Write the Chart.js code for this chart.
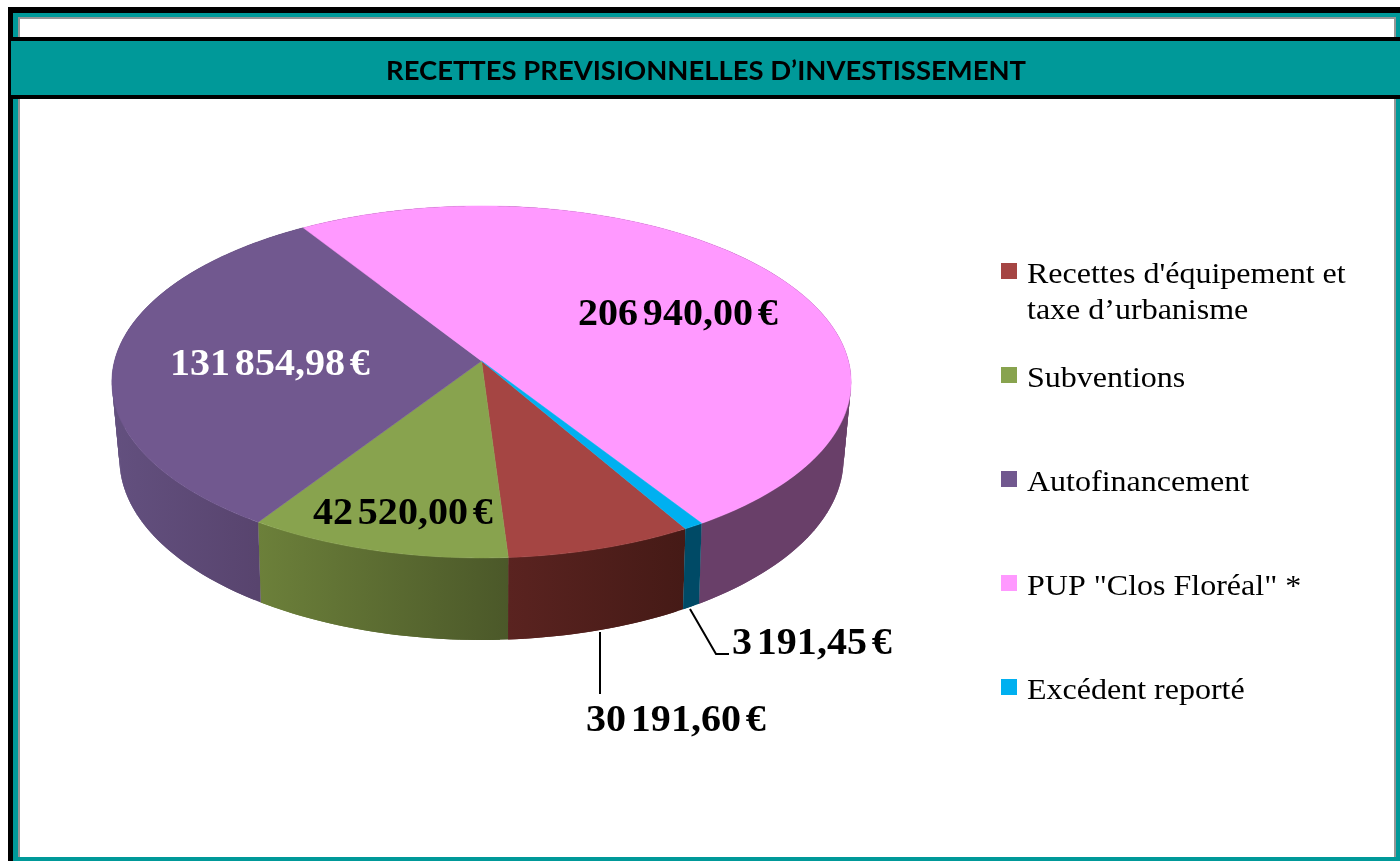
<!DOCTYPE html>
<html lang="fr">
<head>
<meta charset="utf-8">
<title>Recettes prévisionnelles d'investissement</title>
<script src="https://cdn.jsdelivr.net/npm/chart.js@4"></script>
<style>
html,body{margin:0;padding:0;background:#fff;overflow:hidden}
canvas{display:block}
</style>
</head>
<body>
<canvas id="c" width="1400" height="861"></canvas>
<script>
// ---- data ----
const titleText = 'RECETTES PREVISIONNELLES D\u2019INVESTISSEMENT';
const categories = ['Recettes d\'équipement et', 'Subventions', 'Autofinancement', 'PUP "Clos Floréal" *', 'Excédent reporté'];
const values = [30191.60, 42520.00, 131854.98, 206940.00, 3191.45];

// ---- styles ----
const topColors = ['#a54543', '#88a34e', '#71588f', '#ff99ff', '#00b0f0'];
const wallLeft  = ['#5a2320', '#6c803a', '#63507f', '#693f69', '#004a66'];
const wallRight = ['#451a16', '#4b5829', '#58446e', '#693f69', '#004a66'];
const legendExtraLine = 'taxe d\u2019urbanisme';
const labelAt = [[586, 731], [313, 524], [170, 375], [578, 325], [732, 654]];
const labelInk = ['#000', '#000', '#fff', '#000', '#000'];
const legendY = [283, 387, 491, 595, 699];

const eur = v => {
  const [a, b] = v.toFixed(2).split('.');
  return a.replace(/\B(?=(\d{3})+$)/g, ' ') + ',' + b + ' €';
};

// perspective projection of the pie disc
const topFace = {cx: 481.5, cy: 361, rx: 367, ry: 173.5, k: 0.119};
const botFace = {cx: 481.5, cy: 435.4, rx: 359, ry: 178, k: 0.13};
const proj = (f, a) => {
  const u = Math.cos(a), v = Math.sin(a), d = 1 - f.k * v;
  return [f.cx + f.rx * u / d, f.cy + f.ry * v / d];
};

// text widened horizontally, as in the stretched original
const wideText = (c, text, x, y, sx) => {
  c.save();
  c.translate(x, y);
  c.scale(sx, 1);
  c.fillText(text, 0, 0);
  c.restore();
};

const piePlugin = {
  id: 'pie3d',
  beforeDraw(chart) {
    const c = chart.ctx;
    const box = (col, x, y, w, h) => { c.fillStyle = col; c.fillRect(x, y, w, h); };
    box('#fff', 0, 0, 1400, 861);
    // outer frame
    box('#009999', 13, 13, 1387, 848);
    box('#000', 8, 7, 1392, 6);
    box('#000', 8, 7, 5, 854);
    box('#969696', 18, 17, 1378, 840);
    box('#fff', 20, 19, 1374, 838);
    // title band
    box('#000', 8, 37, 1392, 62);
    box('#009999', 11, 41, 1389, 54);
    c.fillStyle = '#000';
    c.font = 'bold 27.5px Lato';
    c.textAlign = 'center';
    c.textBaseline = 'alphabetic';
    c.fillText(titleText, 706, 80, 640);
  },
  beforeDatasetDraw(chart, args) {
    const c = chart.ctx;
    const arcs = chart.getDatasetMeta(args.index).data;
    c.save();
    // side walls first
    arcs.forEach((el, i) => {
      const a0 = el.startAngle, a1 = el.endAngle;
      const step = 0.02;
      const n = Math.max(3, Math.ceil((a1 - a0) / step));
      let minX = 1e9, maxX = -1e9;
      for (let j = 0; j <= n; j++) {
        const a = a0 + (a1 - a0) * j / n;
        if (Math.sin(a) > 0) { const x = proj(topFace, a)[0]; minX = Math.min(minX, x); maxX = Math.max(maxX, x); }
      }
      const g = c.createLinearGradient(minX, 0, maxX, 0);
      g.addColorStop(0, wallLeft[i]);
      g.addColorStop(1, wallRight[i]);
      c.fillStyle = g;
      // each quad overlaps the next one so that no seam shows
      for (let j = 0; j < n; j++) {
        const p = a0 + (a1 - a0) * j / n, q = a0 + (a1 - a0) * Math.min(n, j + 2) / n;
        const t0 = proj(topFace, p), t1 = proj(topFace, q), b0 = proj(botFace, p), b1 = proj(botFace, q);
        c.beginPath();
        c.moveTo(t0[0], t0[1]); c.lineTo(t1[0], t1[1]); c.lineTo(b1[0], b1[1]); c.lineTo(b0[0], b0[1]);
        c.closePath(); c.fill();
      }
    });
    // top face
    arcs.forEach((el, i) => {
      const a0 = el.startAngle, a1 = el.endAngle;
      const n = Math.max(4, Math.ceil((a1 - a0) / 0.01));
      c.beginPath();
      c.moveTo(topFace.cx, topFace.cy);
      for (let j = 0; j <= n; j++) {
        const pt = proj(topFace, a0 + (a1 - a0) * j / n);
        c.lineTo(pt[0], pt[1]);
      }
      c.closePath();
      c.fillStyle = el.options.backgroundColor;
      c.fill();
      c.strokeStyle = el.options.backgroundColor; c.lineWidth = 0.5; c.stroke();
    });
    c.restore();
    return false;
  },
  afterDraw(chart) {
    const c = chart.ctx;
    c.save();
    // leader lines
    c.strokeStyle = '#000'; c.lineWidth = 2;
    c.beginPath(); c.moveTo(600, 632); c.lineTo(600, 694); c.stroke();
    c.beginPath(); c.moveTo(690, 609); c.lineTo(716, 654); c.lineTo(729, 654); c.stroke();
    // value labels
    c.textAlign = 'left'; c.textBaseline = 'alphabetic';
    c.font = 'bold 38.5px "Liberation Serif"';
    c.wordSpacing = '-5px';
    values.forEach((v, i) => {
      c.fillStyle = labelInk[i];
      wideText(c, eur(v), labelAt[i][0], labelAt[i][1], 1.04);
    });
    // legend
    c.font = '30px "Liberation Serif"';
    c.wordSpacing = '0px';
    categories.forEach((name, i) => {
      c.fillStyle = topColors[i];
      c.fillRect(1001, legendY[i] - 20, 16, 16);
      c.fillStyle = '#000';
      wideText(c, name, 1027, legendY[i], 1.067);
    });
    wideText(c, legendExtraLine, 1027, legendY[0] + 36, 1.067);
    c.restore();
  }
};

new Chart(document.getElementById('c'), {
  type: 'pie',
  data: {labels: categories, datasets: [{data: values, backgroundColor: topColors, borderWidth: 0}]},
  options: {
    responsive: false,
    animation: false,
    rotation: 150.1,
    layout: {padding: 0},
    plugins: {legend: {display: false}, title: {display: false}, tooltip: {enabled: false}}
  },
  plugins: [piePlugin]
});
</script>
</body>
</html>
